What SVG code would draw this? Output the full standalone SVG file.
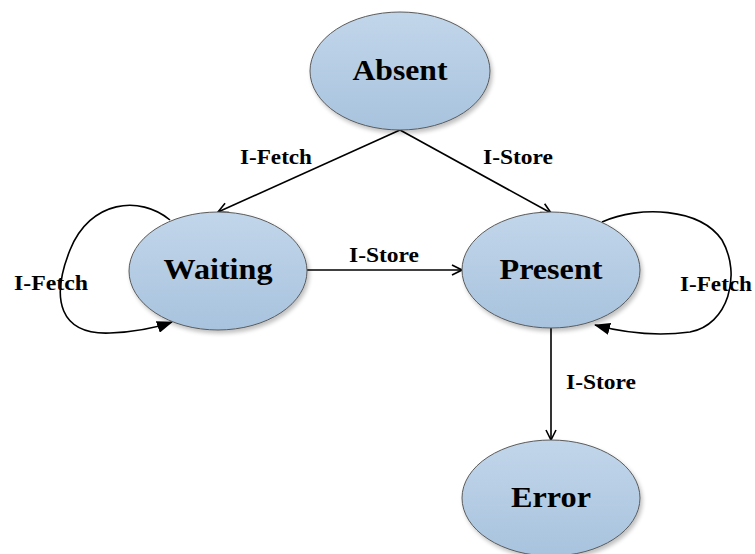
<svg xmlns="http://www.w3.org/2000/svg" width="755" height="554" viewBox="0 0 755 554">
  <style>
    .state { fill: url(#stateFill); stroke: #5a5a5a; stroke-width: 1; filter: url(#shadow); }
    .name { font-family: "Liberation Serif", "Times New Roman", serif; font-weight: bold; font-size: 30px; fill: #000; text-anchor: middle; }
    .edge { fill: none; stroke: #000; stroke-width: 1.6; }
    .lbl { font-family: "Liberation Serif", "Times New Roman", serif; font-weight: bold; font-size: 20px; fill: #000; text-anchor: middle; }
  </style>
  <defs>
    <linearGradient id="stateFill" x1="0" y1="0" x2="0" y2="1">
      <stop offset="0" stop-color="#c2d6ea"/>
      <stop offset="1" stop-color="#a8c3de"/>
    </linearGradient>
    <filter id="shadow" x="-10%" y="-10%" width="125%" height="130%">
      <feGaussianBlur in="SourceAlpha" stdDeviation="2"/>
      <feOffset dx="2" dy="3"/>
      <feComponentTransfer><feFuncA type="linear" slope="0.25"/></feComponentTransfer>
      <feMerge><feMergeNode/><feMergeNode in="SourceGraphic"/></feMerge>
    </filter>
    <marker id="open" viewBox="0 0 12 12" refX="11" refY="6" markerWidth="12" markerHeight="12" markerUnits="userSpaceOnUse" orient="auto">
      <path d="M1,1 L11,6 L1,11" fill="none" stroke="#000" stroke-width="1.6"/>
    </marker>
    <marker id="solid" viewBox="0 0 16 12" refX="15" refY="6" markerWidth="16" markerHeight="12" markerUnits="userSpaceOnUse" orient="auto">
      <path d="M0,0 L16,6 L0,12 Z" fill="#000"/>
    </marker>
  </defs>

  <g id="connectors">
    <path class="edge" d="M400,130 L218,212" marker-end="url(#open)"/>
    <path class="edge" d="M400,130 L551,213" marker-end="url(#open)"/>
    <path class="edge" d="M307,270 L462,270" marker-end="url(#open)"/>
    <path class="edge" d="M551,328 L551,440" marker-end="url(#open)"/>
    <path class="edge" d="M170,220 C140,195 90,200 70,250 C50,300 60,335 110,333 C135,332 155,328 172,322" marker-end="url(#solid)"/>
    <path class="edge" d="M602,222 C640,205 700,208 722,240 C742,275 728,325 690,332 C660,336 625,333 595,325" marker-end="url(#solid)"/>
    <text class="lbl" x="276" y="164" textLength="72" lengthAdjust="spacingAndGlyphs">I-Fetch</text>
    <text class="lbl" x="518" y="164" textLength="70" lengthAdjust="spacingAndGlyphs">I-Store</text>
    <text class="lbl" x="384" y="262" textLength="70" lengthAdjust="spacingAndGlyphs">I-Store</text>
    <text class="lbl" x="51" y="290" textLength="74" lengthAdjust="spacingAndGlyphs">I-Fetch</text>
    <text class="lbl" x="716" y="291" textLength="72" lengthAdjust="spacingAndGlyphs">I-Fetch</text>
    <text class="lbl" x="601" y="389" textLength="70" lengthAdjust="spacingAndGlyphs">I-Store</text>
  </g>

  <g id="absent">
    <ellipse class="state" cx="400" cy="71" rx="90" ry="59"/>
    <text class="name" x="400" y="80" textLength="95" lengthAdjust="spacingAndGlyphs">Absent</text>
  </g>
  <g id="waiting">
    <ellipse class="state" cx="218" cy="271" rx="89" ry="59"/>
    <text class="name" x="218" y="279" textLength="109" lengthAdjust="spacingAndGlyphs">Waiting</text>
  </g>
  <g id="present">
    <ellipse class="state" cx="551" cy="270" rx="89" ry="58"/>
    <text class="name" x="551" y="279" textLength="103" lengthAdjust="spacingAndGlyphs">Present</text>
  </g>
  <g id="error">
    <ellipse class="state" cx="551" cy="498" rx="89" ry="58"/>
    <text class="name" x="551" y="507" textLength="80" lengthAdjust="spacingAndGlyphs">Error</text>
  </g>
</svg>
